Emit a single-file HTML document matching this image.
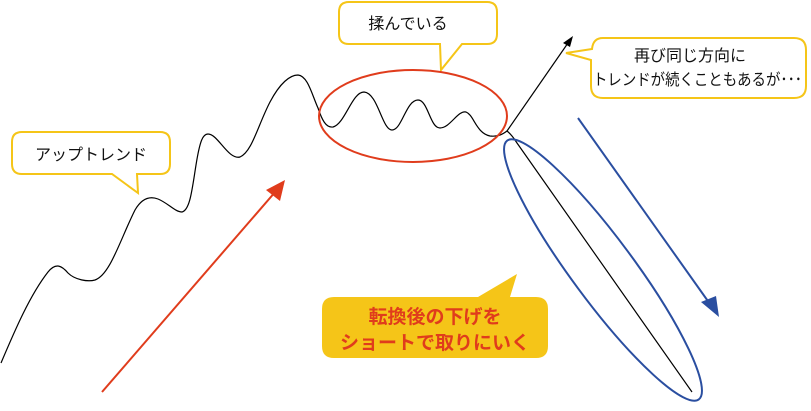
<!DOCTYPE html>
<html><head><meta charset="utf-8"><style>
html,body{margin:0;padding:0;background:#fff;}
svg{display:block}
text{font-family:"Liberation Sans","Noto Sans CJK JP",sans-serif;}
</style></head><body>
<svg width="811" height="411" viewBox="0 0 811 411" xmlns="http://www.w3.org/2000/svg">
<path d="M1,363 C15,330 30,295 48,272 C56,262 62,266 68,273 C75,280 88,282 95,280 C110,275 120,240 135,210 C142,198 150,196 158,199 C168,203 175,212 182,212 C190,210 192,190 196,165 C200,140 203,134 208,134 C218,134 228,160 240,157 C252,152 258,125 270,102 C280,83 290,75 298,75 C308,76 312,95 318,108 C322,120 326,128 333,127 C345,124 352,92 364,92 C378,93 382,130 392,130 C402,130 406,100 418,100 C428,100 430,128 440,128 C450,128 458,110 466,112 C474,115 476,133 490,136 C498,137 503,134 507,131 C512,135 515,140 517,143 L692,392" fill="none" stroke="#000" stroke-width="1.2"/>
<path d="M22,132 H160 Q170,132 170,142 V164 Q170,174 160,174 H137 L138,193 L112,174 H22 Q12,174 12,164 V142 Q12,132 22,132 Z" fill="#fff" stroke="#f5c518" stroke-width="2"/>
<text x="91" y="160" font-size="16" text-anchor="middle" fill="#111">アップトレンド</text>
<path d="M349,2 H487 Q497,2 497,12 V34 Q497,44 487,44 H462 L441,70 L440,44 H349 Q339,44 339,34 V12 Q339,2 349,2 Z" fill="#fff" stroke="#f5c518" stroke-width="2"/>
<text x="408" y="29" font-size="16" text-anchor="middle" fill="#111">揉んでいる</text>
<path d="M603,38 H794 Q806,38 806,50 V86 Q806,98 794,98 H603 Q591,98 591,86 V60 L566,53 L592,49 Q593,38 603,38 Z" fill="#fff" stroke="#f5c518" stroke-width="2"/>
<text x="690" y="61" font-size="16" text-anchor="middle" fill="#111">再び同じ方向に</text>
<text x="593" y="85" font-size="16" textLength="209" lengthAdjust="spacingAndGlyphs" fill="#111">トレンドが続くこともあるが･･･</text>
<path d="M334,297 H478 L517,274 L510,297 H536 Q548,297 548,309 V346 Q548,358 536,358 H334 Q322,358 322,346 V309 Q322,297 334,297 Z" fill="#f5c518"/>
<text x="435" y="323" font-size="19" font-weight="bold" text-anchor="middle" fill="#e03c1c">転換後の下げを</text>
<text x="435" y="349" font-size="19" font-weight="bold" text-anchor="middle" fill="#e03c1c">ショートで取りにいく</text>
<ellipse cx="413" cy="116" rx="94" ry="46" fill="none" stroke="#e03c1c" stroke-width="2"/>
<ellipse cx="603" cy="270" rx="161" ry="31" transform="rotate(53.5 603 270)" fill="none" stroke="#2a4ea0" stroke-width="2"/>
<line x1="102" y1="392" x2="276" y2="191" stroke="#e03c1c" stroke-width="2"/>
<polygon points="285,180 266,190 280,201" fill="#e03c1c"/>
<line x1="507" y1="131" x2="568" y2="43" stroke="#000" stroke-width="1.2"/>
<polygon points="573,36 563,43 570,47" fill="#000"/>
<line x1="578" y1="118" x2="710" y2="304" stroke="#2a4ea0" stroke-width="2"/>
<polygon points="719,317 701,302 716,296" fill="#2a4ea0"/>
</svg>
</body></html>
